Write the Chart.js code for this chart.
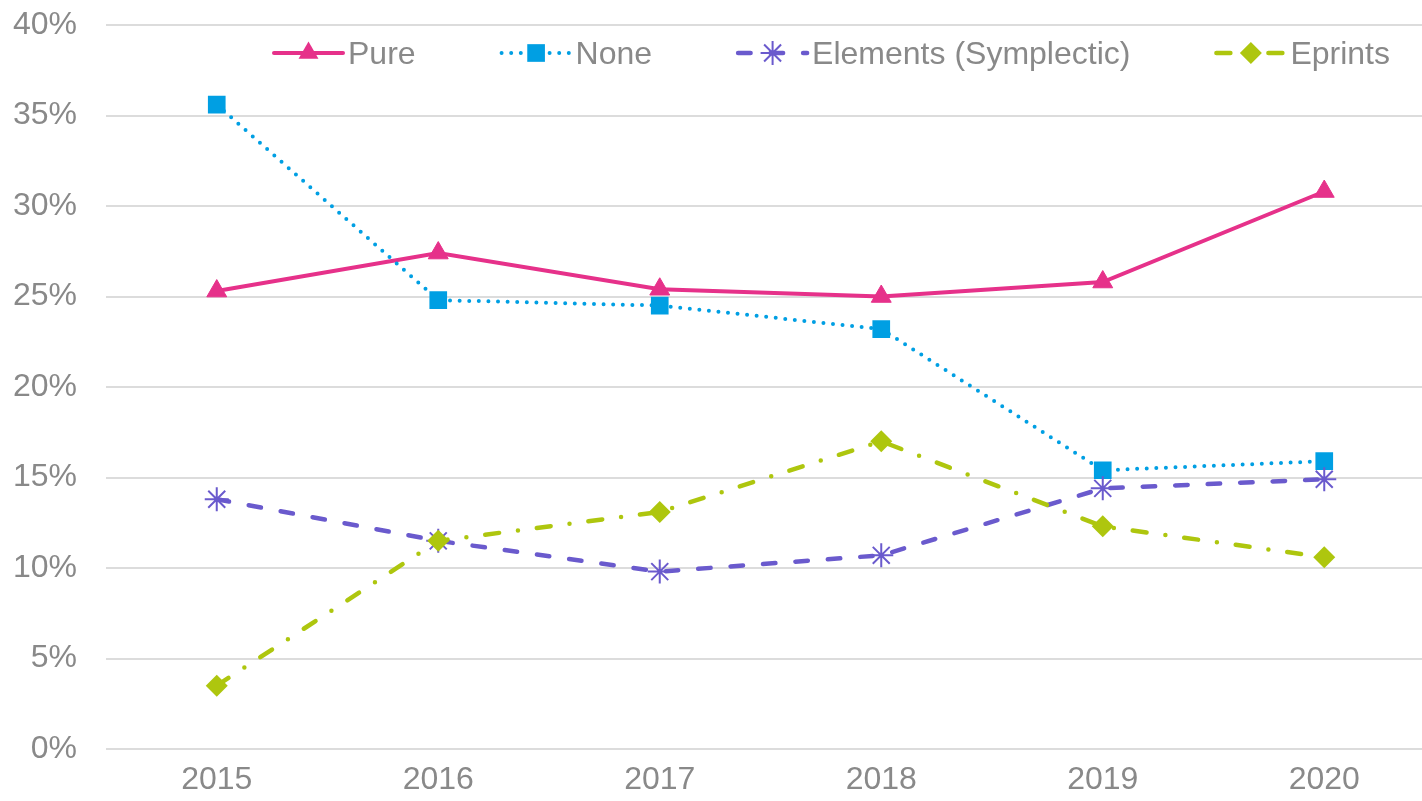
<!DOCTYPE html>
<html lang="en">
<head>
  <meta charset="UTF-8" />
  <title>Repository share 2015-2020</title>
  <script src="https://cdn.jsdelivr.net/npm/chart.js"></script>
  <style>
    html, body { margin: 0; padding: 0; background: #fff; overflow: hidden; }
    #wrap { width: 1450px; height: 801px; }
  </style>
</head>
<body>
  <div id="wrap"><canvas id="chart" width="1450" height="801"></canvas></div>

  <script>
    // Data (percent)
    const years = ['2015', '2016', '2017', '2018', '2019', '2020'];
    const pure = [25.3, 27.4, 25.4, 25.0, 25.8, 30.8];
    const none = [35.6, 24.8, 24.5, 23.2, 15.4, 15.9];
    const elements = [13.8, 11.5, 9.8, 10.7, 14.4, 14.9];
    const eprints = [3.5, 11.5, 13.1, 17.0, 12.3, 10.6];
    const yMin = 0, yMax = 40, yStep = 5;

    const grey = '#898989';
    const font = { family: "'Liberation Sans', Arial, sans-serif", size: 32 };

    // marker shapes for the hand drawn legend
    function drawMarker(ctx, style, r, x, y, color, bw) {
      ctx.save();
      ctx.fillStyle = color;
      ctx.strokeStyle = color;
      ctx.lineWidth = bw || 2;
      ctx.setLineDash([]);
      ctx.beginPath();
      if (style === 'triangle') {
        for (let i = 0; i < 3; i++) {
          const a = i * 2 * Math.PI / 3;
          const px = x + Math.sin(a) * r, py = y - Math.cos(a) * r;
          i ? ctx.lineTo(px, py) : ctx.moveTo(px, py);
        }
        ctx.closePath(); ctx.fill();
      } else if (style === 'rect') {
        const s = r * Math.SQRT1_2;
        ctx.rect(x - s, y - s, 2 * s, 2 * s); ctx.fill();
      } else if (style === 'rectRot') {
        ctx.moveTo(x, y - r); ctx.lineTo(x + r, y); ctx.lineTo(x, y + r); ctx.lineTo(x - r, y);
        ctx.closePath(); ctx.fill();
      } else if (style === 'star') {
        for (let i = 0; i < 4; i++) {
          const a = i * Math.PI / 4;
          ctx.moveTo(x + Math.cos(a) * r, y + Math.sin(a) * r);
          ctx.lineTo(x - Math.cos(a) * r, y - Math.sin(a) * r);
        }
        ctx.stroke();
      }
      ctx.restore();
    }

    const lineLegend = {
      id: 'lineLegend',
      afterDraw(chart) {
        const ctx = chart.ctx;
        const cy = 53;
        let x = chart.chartArea.left + 166;
        ctx.save();
        ctx.font = font.size + 'px ' + font.family;
        ctx.textBaseline = 'middle';
        ctx.fillStyle = grey;
        chart.data.datasets.forEach(ds => {
          const w = 73;
          ctx.save();
          ctx.strokeStyle = ds.borderColor;
          ctx.lineWidth = ds.borderWidth;
          ctx.lineCap = ds.borderCapStyle || 'butt';
          ctx.setLineDash(ds.borderDash || []);
          ctx.beginPath();
          ctx.moveTo(x + 2, cy);
          ctx.lineTo(x + w - 2, cy);
          ctx.stroke();
          ctx.restore();
          drawMarker(ctx, ds.pointStyle, ds.pointRadius, x + w / 2, cy, ds.pointBackgroundColor, ds.pointBorderWidth);
          ctx.fillStyle = grey;
          ctx.fillText(ds.label, x + w + 3, cy + 2);
          x += w + 3 + ctx.measureText(ds.label).width + 84;
        });
        ctx.restore();
      }
    };

    new Chart(document.getElementById('chart'), {
      type: 'line',
      data: {
        labels: years,
        datasets: [
          {
            label: 'Pure', data: pure, order: 4,
            borderColor: '#E6318A', borderWidth: 4, borderCapStyle: 'round',
            pointStyle: 'triangle', pointRadius: 11.5, pointBorderWidth: 1,
            pointBackgroundColor: '#E6318A', pointBorderColor: '#E6318A'
          },
          {
            label: 'None', data: none, order: 3,
            borderColor: '#009FE3', borderWidth: 4, borderCapStyle: 'round', borderDash: [0, 9.6],
            pointStyle: 'rect', pointRadius: 12.5, pointBorderWidth: 0,
            pointBackgroundColor: '#009FE3', pointBorderColor: '#009FE3'
          },
          {
            label: 'Elements (Symplectic)', data: elements, order: 2,
            borderColor: '#6A5ACD', borderWidth: 4.5, borderCapStyle: 'round', borderDash: [12.5, 20],
            pointStyle: 'star', pointRadius: 12, pointBorderWidth: 2,
            pointBackgroundColor: '#6A5ACD', pointBorderColor: '#6A5ACD'
          },
          {
            label: 'Eprints', data: eprints, order: 1,
            borderColor: '#AEC60E', borderWidth: 4.5, borderCapStyle: 'round', borderDash: [14, 19, 0, 19],
            pointStyle: 'rectRot', pointRadius: 11, pointBorderWidth: 0,
            pointBackgroundColor: '#AEC60E', pointBorderColor: '#AEC60E'
          }
        ]
      },
      options: {
        responsive: false,
        animation: false,
        layout: { padding: { top: 25, right: 15, bottom: 0, left: 0 } },
        elements: { line: { tension: 0, fill: false } },
        plugins: { legend: { display: false }, tooltip: { enabled: false } },
        scales: {
          x: {
            offset: true,
            grid: { display: false, drawTicks: false },
            border: { display: false },
            ticks: { color: grey, font: font, padding: 12, maxRotation: 0 },
            afterFit: s => { s.height = 52; }
          },
          y: {
            min: yMin, max: yMax,
            grid: { color: '#dcdcdc', lineWidth: 2, drawTicks: false },
            border: { display: false },
            ticks: { stepSize: yStep, color: grey, font: font, padding: 29, callback: v => v + '%' },
            afterFit: s => { s.width = 106; s.paddingTop = 0; s.paddingBottom = 0; }
          }
        }
      },
      plugins: [lineLegend]
    });
  </script>
</body>
</html>
